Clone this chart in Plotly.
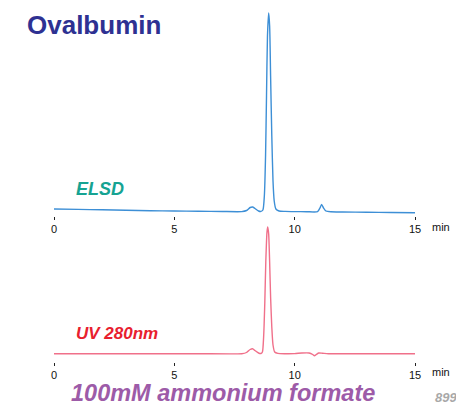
import plotly.graph_objects as go

# ELSD trace (time in min, signal in arbitrary units)
elsd_t = [0, 1, 2, 3, 4, 5, 6, 7, 7.8, 8.0, 8.15, 8.25, 8.35, 8.5, 8.6, 8.68, 8.74, 8.79, 8.83,
          8.87, 8.92, 8.96, 9.0, 9.05, 9.1, 9.15, 9.22, 9.35, 9.6, 10.0, 10.5, 10.95, 11.05,
          11.12, 11.2, 11.3, 11.5, 12, 13, 14, 15]
elsd_v = [7.0, 6.6, 6.2, 5.8, 5.3, 5.0, 4.8, 4.5, 4.4, 5.5, 8.5, 9.0, 7.5, 5.0, 4.6, 6, 20, 60, 120,
          180, 203, 190, 140, 80, 35, 15, 7, 5, 4.6, 4.4, 4.3, 4.3, 8,
          11.5, 8, 5, 4.2, 4.0, 3.8, 3.5, 3.3]

# UV 280nm trace
uv_t = [0, 2, 4, 6, 7.8, 8.0, 8.15, 8.25, 8.35, 8.5, 8.6, 8.66, 8.71, 8.76, 8.8, 8.85, 8.88,
        8.92, 8.96, 9.0, 9.05, 9.1, 9.17, 9.3, 9.6, 10.0, 10.3, 10.6, 10.75, 10.82, 10.9, 11.0,
        11.15, 11.4, 13, 15]
uv_v = [8.3, 8.3, 8.3, 8.3, 8.3, 9.5, 12.5, 13.3, 11.5, 9.0, 8.5, 10, 25, 60, 100, 130, 135,
        128, 100, 65, 35, 17, 10, 8.6, 8.3, 8.4, 9.0, 9.0, 7.5, 6.3, 7.5, 9.0,
        8.8, 8.3, 8.3, 8.3]

tick_vals = [0, 5, 10, 15]
tick_text = ["0", "5", "10", "15"]

W, H = 456, 406
L, PW = 54, 361

def py(screen_y):
    return (H - screen_y) / H

def xp(screen_x):
    return (screen_x - L) / PW

fig = go.Figure()
fig.add_trace(go.Scatter(x=elsd_t, y=elsd_v, mode="lines",
                         line=dict(color="#3d8fd6", width=1.4, shape="spline", smoothing=0.6),
                         xaxis="x", yaxis="y", showlegend=False, hoverinfo="skip"))
fig.add_trace(go.Scatter(x=uv_t, y=uv_v, mode="lines",
                         line=dict(color="#f0708a", width=1.4, shape="spline", smoothing=0.6),
                         xaxis="x2", yaxis="y2", showlegend=False, hoverinfo="skip"))

xax = dict(range=[0, 15], showgrid=False, zeroline=False, showline=False,
           ticks="outside", ticklen=3, tickwidth=1, tickcolor="#222",
           tickvals=tick_vals, ticktext=tick_text,
           tickfont=dict(family="Liberation Sans, Arial", size=11, color="#111"))
yax = dict(showgrid=False, zeroline=False, showline=False, showticklabels=False, ticks="")

fig.update_layout(
    width=W, height=H,
    margin=dict(l=L, r=W - L - PW, t=0, b=0),
    paper_bgcolor="white", plot_bgcolor="white",
    xaxis=dict(xax, domain=[0, 1], anchor="y"),
    yaxis=dict(yax, domain=[py(216), py(10)], range=[0, 206]),
    xaxis2=dict(xax, domain=[0, 1], anchor="y2"),
    yaxis2=dict(yax, domain=[py(362), py(225)], range=[0, 137]),
)

ann = [
    dict(text="<b>Ovalbumin</b>", x=xp(25), y=py(25), xanchor="left", yanchor="middle",
         font=dict(family="Liberation Sans, Arial", size=26, color="#2e3192")),
    dict(text="<b><i>ELSD</i></b>", x=xp(74), y=py(189), xanchor="left", yanchor="middle",
         font=dict(family="Liberation Sans, Arial", size=18, color="#16a392")),
    dict(text="<b><i>UV 280nm</i></b>", x=xp(74), y=py(333), xanchor="left", yanchor="middle",
         font=dict(family="Liberation Sans, Arial", size=17, color="#e8202e")),
    dict(text="<b><i>100mM ammonium formate</i></b>", x=xp(69), y=py(393), xanchor="left", yanchor="middle",
         font=dict(family="Liberation Sans, Arial", size=23.5, color="#9d5ba8")),
    dict(text="<b><i>899</i></b>", x=xp(433), y=py(397), xanchor="left", yanchor="middle",
         font=dict(family="Liberation Sans, Arial", size=13, color="#a8a8a8")),
    dict(text="min", x=xp(430), y=py(227), xanchor="left", yanchor="middle",
         font=dict(family="Liberation Sans, Arial", size=11, color="#111")),
    dict(text="min", x=xp(430), y=py(372), xanchor="left", yanchor="middle",
         font=dict(family="Liberation Sans, Arial", size=11, color="#111")),
]
for a in ann:
    a.update(xref="paper", yref="paper", showarrow=False)
fig.update_layout(annotations=ann)

fig.write_html("out.html", config={"displayModeBar": False},
               post_script="document.body.style.margin='0';document.body.style.overflow='hidden';")
